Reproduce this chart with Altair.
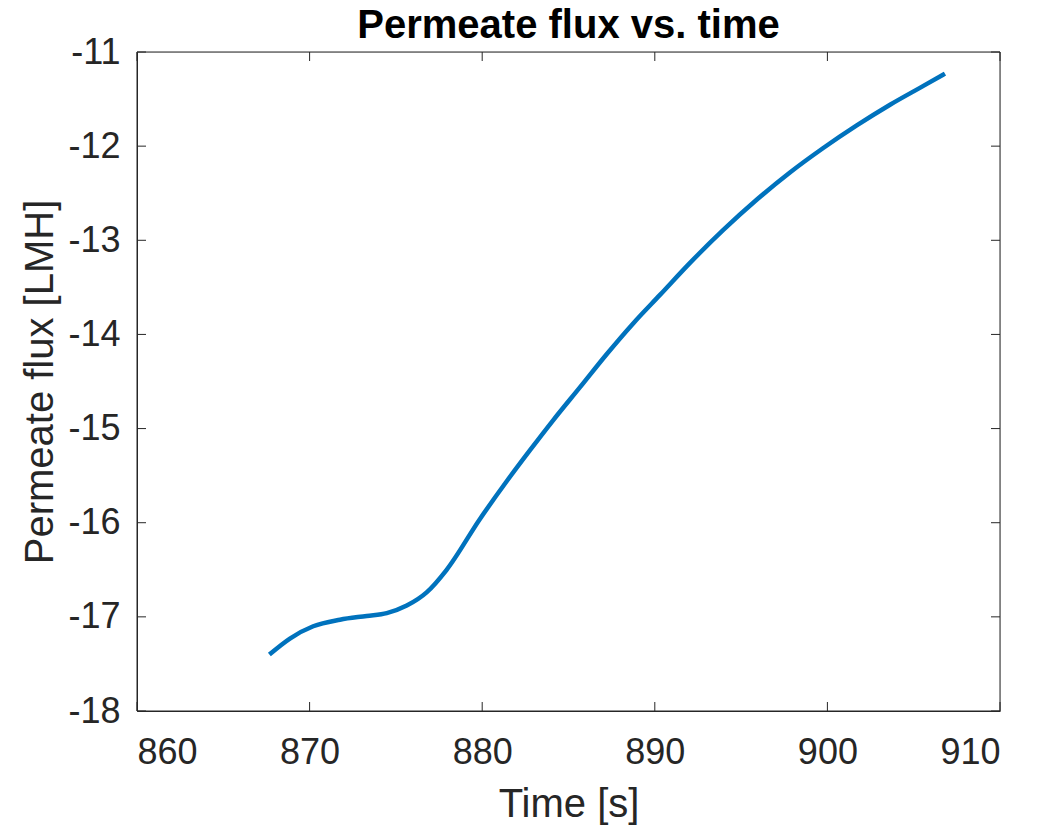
import altair as alt
import pandas as pd

# Values
time_s = [867.67, 868.86, 870.21, 871.76, 873.31, 874.47, 875.63, 876.78, 877.94,
          879.87, 881.42, 882.77, 884.12, 885.67, 887.21, 888.76, 890.30, 892.04,
          893.97, 895.90, 897.83, 899.76, 901.70, 903.63, 905.56, 906.81]
flux_lmh = [-17.40, -17.23, -17.10, -17.03, -16.99, -16.96, -16.88, -16.74, -16.50,
            -15.96, -15.56, -15.23, -14.91, -14.56, -14.21, -13.88, -13.58, -13.24,
            -12.89, -12.57, -12.28, -12.02, -11.78, -11.56, -11.36, -11.23]
x_ticks = [860, 870, 880, 890, 900, 910]
y_ticks = [-18, -17, -16, -15, -14, -13, -12, -11]

W, H = 863, 659
TICK = 9
FONT = "Liberation Sans"
AX = "#262626"

df = pd.DataFrame({"t": time_s, "f": flux_lmh})
xt = pd.DataFrame({"t": x_ticks})
yt = pd.DataFrame({"f": y_ticks})

xs = alt.Scale(domain=[860, 910], nice=False, zero=False)
ys = alt.Scale(domain=[-18, -11], nice=False, zero=False)

x_axis = alt.Axis(values=x_ticks, grid=False, ticks=False, tickSize=0,
                  labelFontSize=36, labelPadding=24, labelColor=AX,
                  labelExpr="'' + datum.value",
                  titleFontSize=40, titleFontWeight="normal", titleColor=AX,
                  titlePadding=14, domainColor=AX, domainWidth=1,
                  labelFont=FONT, titleFont=FONT)
y_axis = alt.Axis(values=y_ticks, grid=False, ticks=False, tickSize=0,
                  labelFontSize=36, labelPadding=17, labelColor=AX,
                  labelExpr="'' + datum.value",
                  titleFontSize=40, titleFontWeight="normal", titleColor=AX,
                  titlePadding=7, domainColor=AX, domainWidth=1,
                  labelFont=FONT, titleFont=FONT)

X = alt.X("t:Q", scale=xs, title="Time [s]", axis=x_axis)
Y = alt.Y("f:Q", scale=ys, title="Permeate flux [LMH]", axis=y_axis)

line = alt.Chart(df).mark_line(color="#0072BD", strokeWidth=4.5, interpolate="monotone").encode(x=X, y=Y)

bottom_ticks = alt.Chart(xt).mark_rule(color=AX, strokeWidth=1).encode(
    x=X, y=alt.value(H), y2=alt.value(H - TICK))
top_ticks = alt.Chart(xt).mark_rule(color=AX, strokeWidth=1).encode(
    x=X, y=alt.value(0), y2=alt.value(TICK))
left_ticks = alt.Chart(yt).mark_rule(color=AX, strokeWidth=1).encode(
    y=Y, x=alt.value(0), x2=alt.value(TICK))
right_ticks = alt.Chart(yt).mark_rule(color=AX, strokeWidth=1).encode(
    y=Y, x=alt.value(W), x2=alt.value(W - TICK))
frame = alt.Chart(pd.DataFrame({"t": [860], "f": [-18]})).mark_rect(
    fill=None, stroke=AX, strokeWidth=1).encode(
    x=alt.value(0), x2=alt.value(W), y=alt.value(0), y2=alt.value(H))

chart = alt.layer(line, bottom_ticks, top_ticks, left_ticks, right_ticks, frame).properties(
    width=W, height=H,
    title=alt.TitleParams("Permeate flux vs. time", fontSize=40, fontWeight="bold",
                          font=FONT, color="#000000", anchor="middle", offset=8, dy=20),
    autosize=alt.AutoSizeParams(type="none"),
    padding={"left": 137, "top": 52, "right": 64, "bottom": 117},
).configure_view(stroke=None).configure(background="white")

chart.save("out.html", embed_options={"renderer": "svg", "actions": False})
